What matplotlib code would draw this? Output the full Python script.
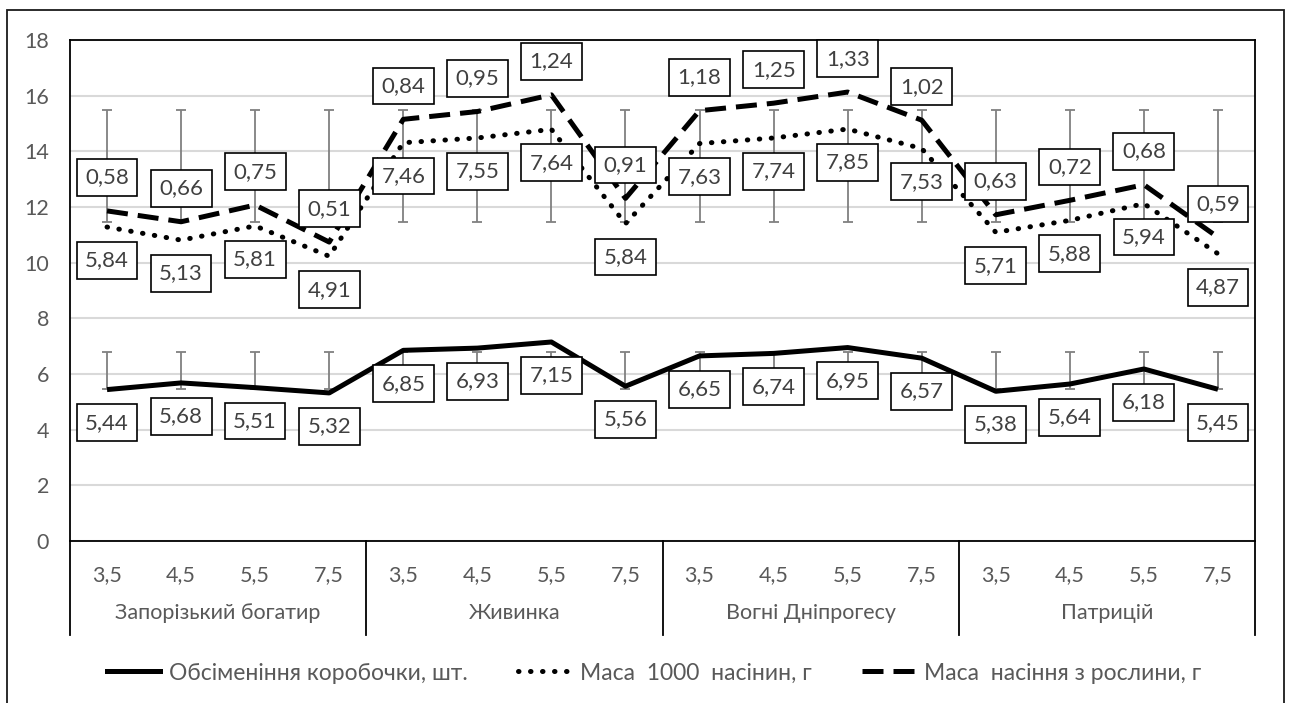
import numpy as np
import matplotlib.pyplot as plt
from matplotlib.patches import Rectangle
from matplotlib.lines import Line2D
import matplotlib.transforms as mtransforms

# categories (two-level axis)
varieties = ["Запорізький богатир", "Живинка", "Вогні Дніпрогесу", "Патрицій"]
rates = ["3,5", "4,5", "5,5", "7,5"]

# series values (stacked line chart in the source)
boll_seeds = [5.44, 5.68, 5.51, 5.32, 6.85, 6.93, 7.15, 5.56,
              6.65, 6.74, 6.95, 6.57, 5.38, 5.64, 6.18, 5.45]
mass_1000 = [5.84, 5.13, 5.81, 4.91, 7.46, 7.55, 7.64, 5.84,
             7.63, 7.74, 7.85, 7.53, 5.71, 5.88, 5.94, 4.87]
mass_plant = [0.58, 0.66, 0.75, 0.51, 0.84, 0.95, 1.24, 0.91,
              1.18, 1.25, 1.33, 1.02, 0.63, 0.72, 0.68, 0.59]

series_names = ["Обсіменіння коробочки, шт.", "Маса  1000  насінин, г",
                "Маса  насіння з рослини, г"]

# error bar ranges (same for every point in the source)
err_low_range = [5.46, 6.8]
err_high_range = [11.46, 15.5]

txt_col = "#595959"
plt.rcParams["font.family"] = ["Lato", "DejaVu Sans"]

fig = plt.figure(figsize=(12.9, 7.03), dpi=100)
ax = fig.add_axes([70 / 1290, 1 - 541 / 703, 1185 / 1290, 501 / 703])

n = len(boll_seeds)
x = np.arange(n)
s1 = np.array(boll_seeds)
s2 = s1 + np.array(mass_1000)
s3 = s2 + np.array(mass_plant)

# error bars
for lo, hi in (err_low_range, err_high_range):
    mid = (lo + hi) / 2
    ax.errorbar(x, np.full(n, mid), yerr=(hi - lo) / 2, fmt="none",
                ecolor="#808080", elinewidth=1.3, capsize=3.6, capthick=1.3, zorder=2)

dotted = (0, (0.1, 2.3))
dashed = (0, (4.2, 2.0))
ax.plot(x, s1, color="black", lw=3.6, solid_capstyle="butt", zorder=3)
ax.plot(x, s2, color="black", lw=3.6, linestyle=dotted, dash_capstyle="round", zorder=3)
ax.plot(x, s3, color="black", lw=3.6, linestyle=dashed, zorder=3)

box = dict(boxstyle="square,pad=0.38", fc="white", ec="black", lw=1.2)
lab_kw = dict(textcoords="offset points", ha="center", va="center",
              fontsize=16, color="#404040", bbox=box, zorder=5)
for i in range(n):
    ax.annotate(f"{boll_seeds[i]:.2f}".replace(".", ","), (x[i], s1[i]),
                xytext=(0, -24), **lab_kw)
    ax.annotate(f"{mass_1000[i]:.2f}".replace(".", ","), (x[i], s2[i]),
                xytext=(0, -24), **lab_kw)
    ax.annotate(f"{mass_plant[i]:.2f}".replace(".", ","), (x[i], s3[i]),
                xytext=(0, 24), **lab_kw)

ax.set_xlim(-0.5, n - 0.5)
ax.set_ylim(0, 18)
ax.set_yticks(range(0, 19, 2))
ax.tick_params(axis="y", length=0, pad=15, labelsize=15.5, labelcolor=txt_col)
ax.set_xticks([])
ax.grid(axis="y", color="#d9d9d9", lw=1.5)
ax.set_axisbelow(True)
for sp in ax.spines.values():
    sp.set_linewidth(1.3)
    sp.set_color("black")

# two-level category axis
trans = mtransforms.blended_transform_factory(ax.transData, ax.transAxes)
ax_h = 501.0
for i in range(n):
    ax.text(x[i], -34 / ax_h, rates[i % 4], transform=trans, ha="center", va="center",
            fontsize=15.5, color=txt_col)
for g, name in enumerate(varieties):
    ax.text(g * 4 + 1.5, -72 / ax_h, name, transform=trans, ha="center", va="center",
            fontsize=15.5, color=txt_col)
for g in range(len(varieties) + 1):
    ax.add_line(Line2D([g * 4 - 0.5] * 2, [0, -94 / ax_h], transform=trans,
                       color="black", lw=1.3, clip_on=False))

# legend
handles = [Line2D([], [], color="black", lw=3.6),
           Line2D([], [], color="black", lw=3.6, linestyle=dotted, dash_capstyle="round"),
           Line2D([], [], color="black", lw=3.6, linestyle=dashed)]
fig.legend(handles, series_names, loc="center", bbox_to_anchor=(0.507, 1 - 673 / 703),
           ncol=3, frameon=False, fontsize=16.5, labelcolor=txt_col,
           handlelength=2.3, columnspacing=2.2, handletextpad=0.4)

# outer chart border
fig.patches.append(Rectangle((7 / 1290, -0.02), 1277 / 1290, 1.02 - 10 / 703,
                             transform=fig.transFigure, fill=False, ec="#1a1a1a", lw=1.3))

fig.savefig("out.png", dpi=100)
